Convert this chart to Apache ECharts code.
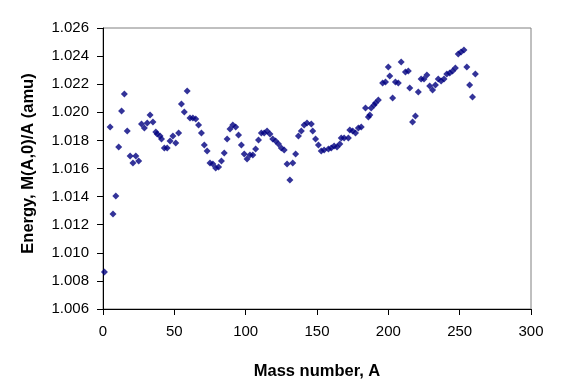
<!DOCTYPE html>
<html><head><meta charset="utf-8">
<script src="https://cdn.jsdelivr.net/npm/echarts@6/dist/echarts.min.js"></script>
<style>html,body{margin:0;padding:0;background:#fff}#c{width:562px;height:392px}</style>
</head><body><div id="c"></div>
<script>
const massNumbers = [1,5,7,9,11,13,15,17,19,21,23,25,27,29,31,33,35,37,38,40,41,43,45,47,49,51,53,55,57,59,61,63,65,67,69,71,73,75,77,79,81,83,85,87,89,91,93,95,97,99,101,103,105,107,109,111,113,115,117,119,121,123,125,127,129,131,133,135,137,139,141,143,146,147,149,151,153,155,158,160,162,164,166,167,169,172,173,175,177,179,181,184,186,187,188,190,191,193,196,198,200,201,203,205,207,209,212,214,215,217,219,221,223,225,227,229,231,233,235,237,239,241,243,245,247,249,251,253,255,257,259,261];
const energyPerNucleon = [1.00863,1.01895,1.01276,1.01404,1.01753,1.0201,1.0213,1.01867,1.01689,1.01639,1.01689,1.01653,1.01917,1.01888,1.01924,1.01981,1.01931,1.0186,1.01846,1.01831,1.0181,1.01746,1.01746,1.01796,1.01831,1.01781,1.01853,1.02059,1.02002,1.02152,1.01959,1.01959,1.01952,1.0191,1.01853,1.01767,1.01725,1.01639,1.01632,1.01604,1.01611,1.01653,1.0171,1.0181,1.01881,1.0191,1.01895,1.01838,1.01767,1.01703,1.01668,1.01696,1.01696,1.01739,1.01803,1.01853,1.01853,1.01867,1.01846,1.0181,1.01796,1.01774,1.01746,1.01732,1.01632,1.01518,1.01639,1.01703,1.01831,1.01867,1.0191,1.01924,1.01917,1.01867,1.0181,1.01767,1.01725,1.01732,1.01739,1.01746,1.0176,1.01753,1.01774,1.01817,1.01817,1.01817,1.01874,1.01867,1.01853,1.01888,1.01895,1.0203,1.01967,1.01981,1.0203,1.02052,1.02066,1.02088,1.02209,1.02216,1.02322,1.02258,1.02102,1.02216,1.02209,1.02358,1.02287,1.02294,1.02173,1.01931,1.01974,1.02145,1.02237,1.02237,1.02265,1.02187,1.02159,1.02194,1.02237,1.02223,1.02237,1.02273,1.0228,1.02294,1.02315,1.02415,1.02429,1.02443,1.02322,1.02194,1.02109,1.02273];
const xTitle = 'Mass number, A';
const yTitle = 'Energy, M(A,0)/A (amu)';

const data = massNumbers.map((a, i) => [a, energyPerNucleon[i]]);
const chart = echarts.init(document.getElementById('c'), null, {renderer: 'canvas'});
const font = '"Liberation Sans", Arial, sans-serif';
chart.setOption({
  animation: false,
  backgroundColor: '#fff',
  grid: {left: 103, right: 31, top: 28, bottom: 83, show: true, borderColor: '#808080', borderWidth: 1, backgroundColor: 'transparent'},
  xAxis: {
    type: 'value', min: 0, max: 300, interval: 50,
    axisLine: {show: true, onZero: false, lineStyle: {color: '#000', width: 1}},
    axisTick: {show: true, inside: false, length: 6, lineStyle: {color: '#000'}},
    axisLabel: {color: '#000', fontFamily: font, fontSize: 15, margin: 15},
    splitLine: {show: false},
    name: xTitle, nameLocation: 'middle', nameGap: 54,
    nameTextStyle: {color: '#000', fontFamily: font, fontSize: 16.5, fontWeight: 'bold'}
  },
  yAxis: {
    type: 'value', min: 1.006, max: 1.026, interval: 0.002,
    axisLine: {show: true, onZero: false, lineStyle: {color: '#000', width: 1}},
    axisTick: {show: true, inside: false, length: 6, lineStyle: {color: '#000'}},
    axisLabel: {color: '#000', fontFamily: font, fontSize: 15, margin: 14, padding: [5, 0, 0, 0], formatter: v => v.toFixed(3)},
    splitLine: {show: false},
    name: yTitle, nameLocation: 'middle', nameGap: 66, nameRotate: 90,
    nameTextStyle: {color: '#000', fontFamily: font, fontSize: 16.5, fontWeight: 'bold', padding: [0, 0, 0, 10]}
  },
  series: [{
    type: 'scatter', data: data, symbol: 'diamond', symbolSize: 7,
    itemStyle: {color: '#000080'}
  }]
});
</script></body></html>
